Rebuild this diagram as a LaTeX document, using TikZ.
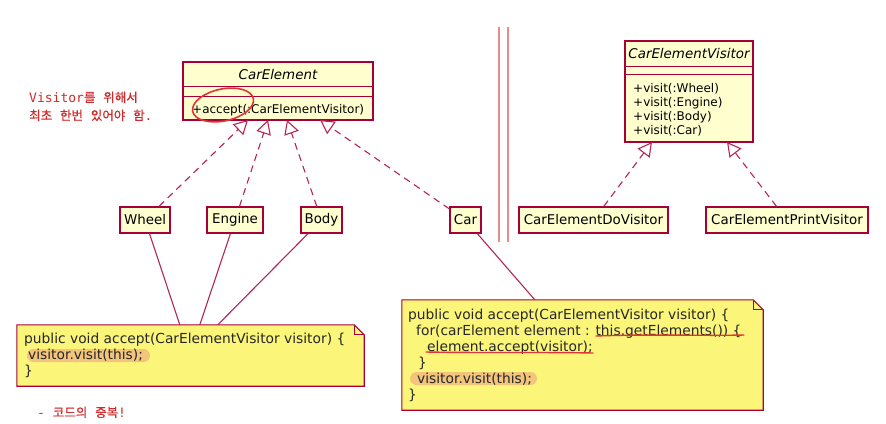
\documentclass[tikz,border=0pt]{standalone}
\usepackage{fontspec}
\setmainfont{DejaVu Sans}
\newfontfamily\cjk{Noto Sans CJK KR}[FakeBold=0.6]
\newfontfamily\monofnt{DejaVu Sans Mono}
\usetikzlibrary{arrows.meta}

\definecolor{umlborder}{HTML}{A80036}
\definecolor{umlfill}{HTML}{FEFECE}
\definecolor{notefill}{HTML}{FBF67A}
\definecolor{marker}{HTML}{F3C47C}
\definecolor{pen}{HTML}{E23434}
\definecolor{remark}{HTML}{D02A2A}
\definecolor{divider}{HTML}{F08A8A}

\newcommand{\msp}{{\monofnt\ }}

\tikzset{
  classbox/.style={draw=umlborder, fill=umlfill, line width=1.3pt, inner sep=0pt},
  leaf/.style={classbox, minimum height=26pt, font=\fontsize{13.4}{16}\selectfont},
  ctitle/.style={font=\fontsize{13.4}{16}\selectfont\itshape, inner sep=0pt},
  member/.style={font=\fontsize{12}{14}\selectfont, inner sep=0pt, anchor=base west},
  compartment/.style={draw=umlborder, line width=1.3pt},
  realize/.style={draw=umlborder!85!white, line width=1.1pt, dash pattern=on 7pt off 5pt,
    -{Triangle[open, length=14pt, width=15pt, fill=white]}},
  link/.style={draw=umlborder!85!white, line width=1.1pt},
  notebody/.style={draw=none, fill=none, inner sep=0pt},
  noteshape/.style={draw=umlborder, fill=notefill, line width=1.1pt, line join=miter},
  code/.style={font=\fontsize{13.8}{16}\selectfont, inner sep=0pt, anchor=base west, text=black!85},
  remarktext/.style={font=\fontsize{13}{16}\selectfont, text=remark, inner sep=0pt, anchor=base west},
  scribble/.style={draw=pen, line width=1.4pt, line cap=round},
}

\begin{document}
\begin{tikzpicture}[x=1pt, y=-1pt]
  \useasboundingbox[fill=white] (0,0) rectangle (886,423);

  % ---- element hierarchy ----
  \node[classbox, minimum width=190pt, minimum height=58pt] (ce) at (278,91) {};
  \node[ctitle] (cetitle) at (278,74.5) {CarElement};
  \draw[compartment] ([yshift=-25pt]ce.north west) -- ([yshift=-25pt]ce.north east);
  \draw[compartment] ([yshift=-35pt]ce.north west) -- ([yshift=-35pt]ce.north east);
  \node[member] (ceaccept) at (192,113) {+accept(:CarElementVisitor)};

  \node[leaf, minimum width=50pt] (wheel) at (145,220) {Wheel};
  \node[leaf, minimum width=56pt] (engine) at (235,220) {Engine};
  \node[leaf, minimum width=41pt] (body) at (321.5,220) {Body};
  \node[leaf, minimum width=31pt] (car) at (465.5,220) {Car};

  \coordinate (tipW) at (248,120);
  \coordinate (tipE) at (268,120);
  \coordinate (tipB) at (287,120);
  \coordinate (tipC) at (320,120);
  \draw[realize] (wheel) -- (tipW);
  \draw[realize] (engine) -- (tipE);
  \draw[realize] (body) -- (tipB);
  \draw[realize] (car) -- (tipC);

  % ---- visitor hierarchy ----
  \node[classbox, minimum width=128pt, minimum height=101pt] (cev) at (689,91.5) {};
  \node[ctitle] (cevtitle) at (689,54) {CarElementVisitor};
  \draw[compartment] ([yshift=-26pt]cev.north west) -- ([yshift=-26pt]cev.north east);
  \draw[compartment] ([yshift=-34pt]cev.north west) -- ([yshift=-34pt]cev.north east);
  \node[member] (vw) at (633,92) {+visit(:Wheel)};
  \node[member] (ve) at (633,106) {+visit(:Engine)};
  \node[member] (vb) at (633,120) {+visit(:Body)};
  \node[member] (vc) at (633,134) {+visit(:Car)};

  \node[leaf, minimum width=149pt] (dov) at (593.5,220) {CarElementDoVisitor};
  \node[leaf, minimum width=162pt] (prv) at (787,220) {CarElementPrintVisitor};
  \coordinate (tipD) at (652,142);
  \coordinate (tipP) at (727,142);
  \draw[realize] (dov) -- (tipD);
  \draw[realize] (prv) -- (tipP);

  % ---- separator ----
  \draw[divider, line width=1.3pt] (499,27) -- (499,242);
  \draw[divider, line width=1.3pt] (508,27) -- (508,242);

  % ---- notes ----
  \node[notebody, minimum width=347pt, minimum height=61pt] (ln) at (190.5,355.5) {};
  \filldraw[noteshape] (ln.north west) -- ([xshift=-10pt]ln.north east) -- ([yshift=-10pt]ln.north east)
    -- (ln.south east) -- (ln.south west) -- cycle;
  \draw[noteshape, fill=none] ([xshift=-10pt]ln.north east) |- ([yshift=-10pt]ln.north east);

  \node[notebody, minimum width=361pt, minimum height=110pt] (rn) at (582.5,355) {};
  \filldraw[noteshape] (rn.north west) -- ([xshift=-10pt]rn.north east) -- ([yshift=-10pt]rn.north east)
    -- (rn.south east) -- (rn.south west) -- cycle;
  \draw[noteshape, fill=none] ([xshift=-10pt]rn.north east) |- ([yshift=-10pt]rn.north east);

  \draw[link] (wheel) -- ([xshift=163pt]ln.north west);
  \draw[link] (engine) -- ([xshift=183pt]ln.north west);
  \draw[link] (body) -- ([xshift=201pt]ln.north west);
  \draw[link] (car) -- ([xshift=133pt]rn.north west);

  % highlighter strokes behind the code
  \fill[marker, rounded corners=6.5pt] (27,349) rectangle (150,362);
  \fill[marker, rounded corners=6.5pt] (410,372) rectangle (537,385);

  \node[code] (l1) at (24,343) {public void accept(CarElementVisitor visitor) \{};
  \node[code] (l2) at (28,359) {visitor.visit(this);};
  \node[code] (l3) at (24,375) {\}};

  \node[code] (r1) at (408,319) {public void accept(CarElementVisitor visitor) \{};
  \node[code] (r2) at (416,335) {for(carElement element : this.getElements()) \{};
  \node[code] (r3) at (427,351) {element.accept(visitor);};
  \node[code] (r4) at (418,367) {\}};
  \node[code] (r5) at (417,383) {visitor.visit(this);};
  \node[code] (r6) at (408,399) {\}};

  % pen marks
  \draw[scribble] (596,336) .. controls (650,334) and (700,336) .. (744,335);
  \draw[scribble] (426,352) .. controls (480,353) and (540,352) .. (593,353);
  \draw[scribble, line width=1.6pt, rotate around={12:(223,105)}] (223,105) ellipse [x radius=31pt, y radius=16pt];

  % remarks
  \node[remarktext] (rm1) at (29,102) {{\monofnt Visitor}{\cjk\fontsize{12.5}{16}\selectfont 를}\msp{\cjk\fontsize{12.5}{16}\selectfont 위해서}};
  \node[remarktext] (rm2) at (29,120) {{\cjk\fontsize{12.5}{16}\selectfont 최초}\msp{\cjk\fontsize{12.5}{16}\selectfont 한번}\msp{\cjk\fontsize{12.5}{16}\selectfont 있어야}\msp{\cjk\fontsize{12.5}{16}\selectfont 함}{\monofnt .}};
  \node[remarktext] (rm3) at (37,417) {{\monofnt -}\msp{\cjk\fontsize{12.5}{16}\selectfont 코드의}\msp{\cjk\fontsize{12.5}{16}\selectfont 중복}{\monofnt !}};
\end{tikzpicture}
\end{document}
